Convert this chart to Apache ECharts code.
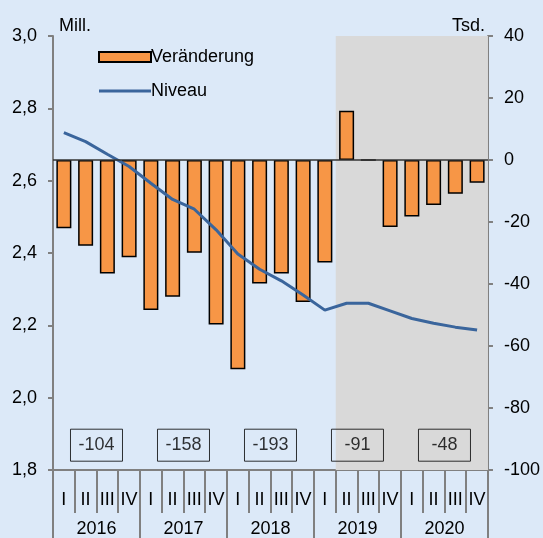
<!DOCTYPE html>
<html>
<head>
<meta charset="utf-8">
<script src="https://cdn.jsdelivr.net/npm/echarts@6/dist/echarts.min.js"></script>
<style>
  html, body { margin: 0; padding: 0; background: #dce9f8; }
  #main { width: 543px; height: 538px; }
</style>
</head>
<body>
<div id="main"></div>
<script>
// Quartale und Jahre
const quartale = ['I', 'II', 'III', 'IV', 'I', 'II', 'III', 'IV', 'I', 'II', 'III', 'IV', 'I', 'II', 'III', 'IV', 'I', 'II', 'III', 'IV']
const jahre = ['2016', '2017', '2018', '2019', '2020']
// Veränderung in Tsd. (rechte Achse)
const veraenderung = [-22, -27.7, -36.6, -31.4, -48.4, -44.1, -29.9, -53.1, -67.5, -39.8, -36.6, -45.8, -33.1, 15.9, 0, -21.6, -18.2, -14.5, -10.9, -7.3]
// Niveau in Mill. (linke Achse)
const niveau = [2.733, 2.708, 2.673, 2.639, 2.593, 2.548, 2.521, 2.464, 2.397, 2.355, 2.323, 2.284, 2.242, 2.261, 2.261, 2.240, 2.219, 2.206, 2.195, 2.187]
// Jahressummen (Kästchen)
const jahresSumme = [-104, -158, -193, -91, -48]
const kastenY = -92

const font = "'Liberation Sans', Arial, sans-serif"
const schmal = "'Liberation Sans Narrow', 'Arial Narrow', 'Liberation Sans', sans-serif"
const grau = '#808080'

var myChart = echarts.init(document.getElementById('main'))

var kasten = jahresSumme.map((v, i) => ({ value: [i * 4 + 2, kastenY], name: String(v) }))

var option = {
    backgroundColor: '#dce9f8',
    animation: false,
    textStyle: { fontFamily: font, color: '#000' },
    grid: { left: 53, right: 54, top: 36, bottom: 68 },
    legend: {
        orient: 'vertical',
        left: 93,
        top: 41,
        itemWidth: 52,
        itemHeight: 10,
        itemGap: 12,
        textStyle: { fontFamily: font, fontSize: 18, color: '#000', lineHeight: 22, padding: [0, 0, 0, -5] },
        data: [
            { name: 'Veränderung', icon: 'rect' },
            { name: 'Niveau', icon: 'path://M0,0H52V3H0Z' }
        ]
    },
    xAxis: [
        {
            type: 'category',
            data: quartale,
            position: 'bottom',
            axisLine: { onZero: false, lineStyle: { color: grau, width: 2 } },
            axisTick: { show: true, interval: 0, length: 43, lineStyle: { color: grau, width: 2 } },
            axisLabel: { interval: 0, fontSize: 18, color: '#000', fontFamily: schmal, margin: 21 }
        },
        {
            type: 'category',
            data: jahre,
            position: 'bottom',
            axisLine: { show: false, onZero: false },
            axisTick: { show: true, interval: 0, length: 68, lineStyle: { color: grau, width: 2 } },
            axisLabel: { interval: 0, fontSize: 18, color: '#000', fontFamily: schmal, margin: 50 }
        },
        {
            type: 'value',
            min: 0,
            max: 20,
            show: false
        }
    ],
    yAxis: [
        {
            type: 'value',
            min: 1.8,
            max: 3.0,
            interval: 0.2,
            position: 'left',
            name: 'Mill.',
            nameLocation: 'end',
            nameGap: 1,
            nameTextStyle: { fontSize: 18, color: '#000', fontFamily: font, align: 'left', padding: [0, 0, 0, 6] },
            splitLine: { show: false },
            axisLine: { show: true, onZero: false, lineStyle: { color: grau, width: 2 } },
            axisTick: { show: true, length: 5, lineStyle: { color: grau, width: 2 } },
            axisLabel: {
                fontSize: 18, color: '#000', fontFamily: font, margin: 16,
                formatter: v => v.toFixed(1).replace('.', ',')
            }
        },
        {
            type: 'value',
            min: -100,
            max: 40,
            interval: 20,
            position: 'right',
            name: 'Tsd.',
            nameLocation: 'end',
            nameGap: 1,
            nameTextStyle: { fontSize: 18, color: '#000', fontFamily: font, align: 'right', padding: [0, 3, 0, 0] },
            splitLine: { show: false },
            axisLine: { show: true, onZero: false, lineStyle: { color: grau, width: 2 } },
            axisTick: { show: true, length: 5, lineStyle: { color: grau, width: 2 } },
            axisLabel: { fontSize: 18, color: '#000', fontFamily: font, margin: 16 }
        }
    ],
    series: [
        {
            // grau hinterlegter Bereich + Jahressummen
            name: 'kasten',
            type: 'scatter',
            xAxisIndex: 2,
            yAxisIndex: 1,
            z: 1,
            symbolSize: 0,
            silent: true,
            data: kasten,
            label: {
                show: true,
                position: 'inside',
                formatter: p => p.name,
                fontSize: 18,
                color: '#000',
                fontFamily: font,
                width: 30,
                height: 18,
                align: 'center',
                verticalAlign: 'middle',
                padding: [7, 11],
                borderColor: '#000',
                borderWidth: 1
            },
            markArea: {
                silent: true,
                itemStyle: { color: '#d9d9d9' },
                data: [[{ xAxis: 13 }, { xAxis: 20 }]]
            }
        },
        {
            name: 'Veränderung',
            type: 'bar',
            xAxisIndex: 0,
            yAxisIndex: 1,
            z: 2,
            barWidth: 15,
            data: veraenderung,
            itemStyle: { color: '#f79646', borderColor: '#000', borderWidth: 1.5 },
            markLine: {
                silent: true,
                symbol: 'none',
                label: { show: false },
                lineStyle: { color: '#333', width: 1.5, type: 'solid' },
                data: [{ yAxis: 0 }]
            }
        },
        {
            name: 'Niveau',
            type: 'line',
            xAxisIndex: 0,
            yAxisIndex: 0,
            z: 3,
            symbol: 'none',
            showSymbol: false,
            data: niveau,
            lineStyle: { color: '#3a659c', width: 3 },
            itemStyle: { color: '#3a659c' }
        }
    ]
}

myChart.setOption(option)
</script>
</body>
</html>
